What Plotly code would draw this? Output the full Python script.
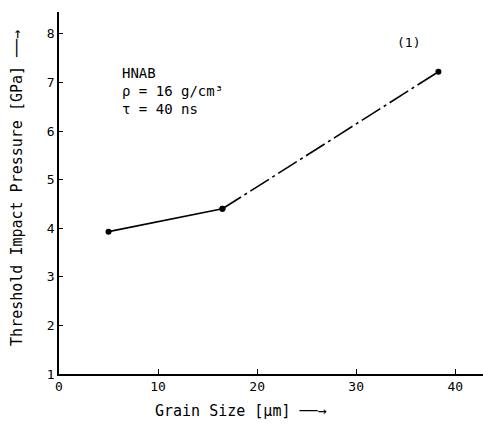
import plotly.graph_objects as go

grain_size = [5.0, 16.5, 38.3]
pressure = [3.93, 4.40, 7.22]
x_ticks = [0, 10, 20, 30, 40]
y_ticks = [1, 2, 3, 4, 5, 6, 7, 8]

FONT = "DejaVu Sans Mono"
fig = go.Figure()
fig.add_trace(go.Scatter(x=grain_size[:2], y=pressure[:2], mode="lines+markers",
                         line=dict(color="black", width=1.6),
                         marker=dict(color="black", size=6), showlegend=False))
fig.add_trace(go.Scatter(x=grain_size[1:], y=pressure[1:], mode="lines+markers",
                         line=dict(color="black", width=1.6, dash="22px,4px,3px,4px"),
                         marker=dict(color="black", size=6), showlegend=False))

fig.add_annotation(x=6.2, y=6.25, xref="x", yref="y", showarrow=False, xanchor="left", yanchor="bottom",
                   align="left", font=dict(family=FONT, size=14, color="black"),
                   text="HNAB<br>ρ = 16 g/cm³<br>τ = 40 ns")
fig.add_annotation(x=35.3, y=7.83, xref="x", yref="y", showarrow=False,
                   font=dict(family=FONT, size=13, color="black"), text="(1)")
fig.add_annotation(x=18.4, y=-0.102, xref="x", yref="paper", showarrow=False,
                   xanchor="center", yanchor="middle",
                   font=dict(family=FONT, size=15, color="black"), text="Grain Size [µm] ──→")
fig.add_annotation(x=-0.099, y=4.83, xref="paper", yref="y", showarrow=False, textangle=-90,
                   xanchor="center", yanchor="middle",
                   font=dict(family=FONT, size=15, color="black"),
                   text="Threshold Impact Pressure [GPa] ──→")

fig.update_layout(
    width=483, height=425, margin=dict(l=59, r=0, t=12, b=51),
    plot_bgcolor="white", paper_bgcolor="white",
    font=dict(family=FONT, size=13, color="black"),
    xaxis=dict(range=[0, 42.8], tickvals=x_ticks, ticks="inside", ticklen=5, tickcolor="black",
               showline=True, linecolor="black", linewidth=1.5, showgrid=False, zeroline=False,
               tickfont=dict(size=13)),
    yaxis=dict(range=[1, 8.45], tickvals=y_ticks, ticks="inside", ticklen=4, tickcolor="black",
               showline=True, linecolor="black", linewidth=1.5, showgrid=False, zeroline=False,
               tickfont=dict(size=13)),
)
fig.write_html("out.html")
